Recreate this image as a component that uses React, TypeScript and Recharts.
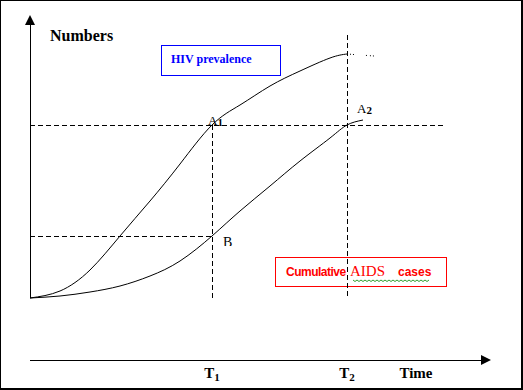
import { LineChart, Line, XAxis, YAxis, ReferenceLine, ReferenceArea, ReferenceDot } from 'recharts';

// curve samples (time, numbers)
const hivTime = [0, 30, 60, 90, 120, 150, 182, 210, 240, 270, 300, 317];
const hivNumbers = [0, 7, 28, 62, 97, 134, 173, 193, 212, 227, 240, 244];
const hivTailTime = [317, 344];
const hivTailNumbers = [244, 242];

const aidsTime = [0, 30, 60, 90, 120, 150, 182, 210, 240, 270, 300, 317, 333];
const aidsNumbers = [0, 2, 6, 12, 22, 37, 62, 87, 112, 137, 160, 173, 178];

const timeDomain = [0, 461];
const numbersDomain = [-62, 283];

const t1 = 182;
const t2 = 317;
const levelA = 173;
const levelB = 62;

const timeTicks = [t1, t2, 386];
const timeTickNames = ['T', 'T', 'Time'];
const timeTickSubs = ['1', '2', ''];

const pointNames = ['A', 'A', 'B'];
const pointSubs = ['1', '2', ''];
const pointTime = [178, 327, 193];
const pointNumbers = [173, 185, 51];

const serif = '"Liberation Serif", "Times New Roman", serif';
const sans = '"Liberation Sans", Arial, sans-serif';

const toRows = (xs: number[], ys: number[]) => xs.map((t, i) => ({ t, v: ys[i] }));

const hivData = toRows(hivTime, hivNumbers);
const hivTail = toRows(hivTailTime, hivTailNumbers);
const aidsData = toRows(aidsTime, aidsNumbers);

const ArrowLine = (dir: 'up' | 'right') => (p: any) => {
  const { x1, y1, x2, y2 } = p;
  const head =
    dir === 'up'
      ? `${x2},${y2} ${x2 - 5},${y2 + 10} ${x2 + 5},${y2 + 10}`
      : `${x2},${y2} ${x2 - 10},${y2 - 5} ${x2 - 10},${y2 + 5}`;
  const ex = dir === 'up' ? x2 : x2 - 9;
  const ey = dir === 'up' ? y2 + 9 : y2;
  return (
    <g>
      <line x1={x1} y1={y1} x2={ex} y2={ey} stroke="#000" strokeWidth={1} shapeRendering="crispEdges" />
      <polygon points={head} fill="#000" />
    </g>
  );
};

const TimeTick = ({ x, y, payload }: any) => {
  const i = timeTicks.indexOf(payload.value);
  return (
    <text x={x} y={y + 10} textAnchor="middle" fontFamily={serif} fontWeight="bold" fontSize={15} fill="#000">
      {timeTickNames[i]}
      {timeTickSubs[i] ? (
        <tspan fontSize={11} dy={3}>
          {timeTickSubs[i]}
        </tspan>
      ) : null}
    </text>
  );
};

const PointLabel = (i: number) => (p: any) => {
  const { cx, cy } = p;
  if (pointNames[i] === 'B') {
    return (
      <svg x={cx} y={cy - 10} width={12} height={9} overflow="hidden">
        <text x={0} y={10} fontFamily={serif} fontSize={14} fill="#000">
          B
        </text>
      </svg>
    );
  }
  return (
    <text x={cx} y={cy} fontFamily={serif} fontSize={13} fill="#000">
      {pointNames[i]}
      <tspan fontSize={11} fontWeight="bold" dy={1}>
        {pointSubs[i]}
      </tspan>
    </text>
  );
};

const HivBox = (p: any) => (
  <g>
    <rect x={p.x} y={p.y} width={p.width} height={p.height} fill="#fff" stroke="#0000ff" strokeWidth={1} shapeRendering="crispEdges" />
    <text x={p.x + 10} y={p.y + 18} fontFamily={serif} fontWeight="bold" fontSize={12} fill="#0000ff">
      HIV prevalence
    </text>
  </g>
);

const AidsBox = (p: any) => {
  const wx0 = p.x + 78;
  const wy = p.y + 23;
  const wave: string[] = [];
  for (let k = 0; k <= 38; k++) wave.push(`${wx0 + k * 2},${wy + (k % 2 === 0 ? 0 : 1.5)}`);
  return (
    <g>
      <rect x={p.x} y={p.y} width={p.width} height={p.height} fill="none" stroke="#ff0000" strokeWidth={1} shapeRendering="crispEdges" />
      <text y={p.y + 19} fill="#ff0000">
        <tspan x={p.x + 11} fontFamily={sans} fontWeight="bold" fontSize={12} letterSpacing={-0.5}>
          Cumulative
        </tspan>
        <tspan x={p.x + 75} fontFamily={serif} fontSize={15}>
          AIDS
        </tspan>
        <tspan x={p.x + 123} fontFamily={sans} fontWeight="bold" fontSize={12}>
          cases
        </tspan>
      </text>
      <polyline points={wave.join(' ')} fill="none" stroke="#2e9e2e" strokeWidth={1} />
    </g>
  );
};

export default function App() {
  return (
    <div style={{ position: 'absolute', left: 0, top: 0, width: 523, height: 390, background: '#fff' }}>
      <LineChart width={523} height={390} margin={{ top: 15, right: 32, bottom: 0, left: 30 }}>
        <XAxis
          type="number"
          dataKey="t"
          domain={timeDomain}
          allowDataOverflow
          ticks={timeTicks}
          interval={0}
          axisLine={false}
          tickLine={false}
          tick={<TimeTick />}
          height={30}
        />
        <YAxis type="number" dataKey="v" domain={numbersDomain} allowDataOverflow hide />

        <ReferenceArea x1={131} x2={250} y1={223} y2={253} shape={HivBox} />
        <ReferenceArea x1={245} x2={416} y1={12} y2={41} shape={AidsBox} />

        <ReferenceLine segment={[{ x: 0, y: 0 }, { x: 0, y: 283 }]} shape={ArrowLine('up')} />
        <ReferenceLine segment={[{ x: 0, y: -62 }, { x: 461, y: -62 }]} shape={ArrowLine('right')} />

        <ReferenceLine segment={[{ x: 0, y: levelA }, { x: 413, y: levelA }]} stroke="#000" strokeDasharray="5 3" shapeRendering="crispEdges" />
        <ReferenceLine segment={[{ x: 0, y: levelB }, { x: t1, y: levelB }]} stroke="#000" strokeDasharray="5 3" shapeRendering="crispEdges" />
        <ReferenceLine segment={[{ x: t1, y: levelA }, { x: t1, y: 0 }]} stroke="#000" strokeDasharray="5 3" shapeRendering="crispEdges" />
        <ReferenceLine segment={[{ x: t2, y: 263 }, { x: t2, y: 0 }]} stroke="#000" strokeDasharray="5 3" shapeRendering="crispEdges" />

        <Line data={hivData} dataKey="v" type="natural" stroke="#000" strokeWidth={1} dot={false} activeDot={false} isAnimationActive={false} />
        <Line data={hivTail} dataKey="v" type="linear" stroke="#000" strokeWidth={1} strokeDasharray="1 2 1 2 1 12 1 3" dot={false} activeDot={false} isAnimationActive={false} />
        <Line data={aidsData} dataKey="v" type="natural" stroke="#000" strokeWidth={1} dot={false} activeDot={false} isAnimationActive={false} />

        <ReferenceDot x={20} y={257} r={0} shape={(p: any) => (
          <text x={p.cx} y={p.cy} fontFamily={serif} fontWeight="bold" fontSize={16} fill="#000">
            Numbers
          </text>
        )} />
        {pointNames.map((_, i) => (
          <ReferenceDot key={i} x={pointTime[i]} y={pointNumbers[i]} r={0} shape={PointLabel(i)} />
        ))}
      </LineChart>
      <div
        style={{
          position: 'absolute',
          inset: 0,
          boxSizing: 'border-box',
          borderStyle: 'solid',
          borderColor: '#000',
          borderWidth: '1px 2px 2px 1px',
          pointerEvents: 'none',
        }}
      />
    </div>
  );
}
